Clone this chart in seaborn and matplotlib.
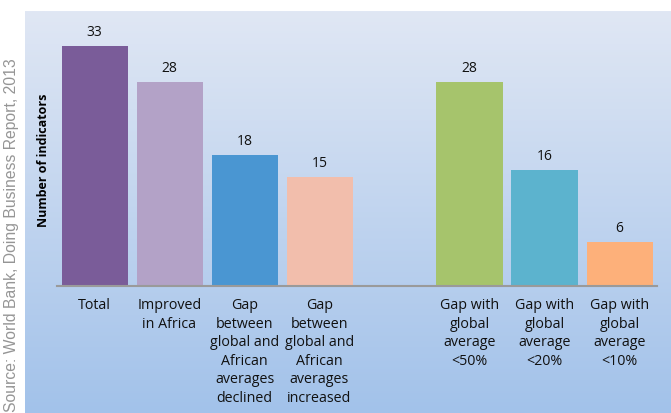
import numpy as np
import pandas as pd
import matplotlib
matplotlib.use("Agg")
import matplotlib.pyplot as plt
import seaborn as sns

categories = ["Total", "Improved\nin Africa",
              "Gap\nbetween\nglobal and\nAfrican\naverages\ndeclined",
              "Gap\nbetween\nglobal and\nAfrican\naverages\nincreased",
              "Gap with\nglobal\naverage\n<50%",
              "Gap with\nglobal\naverage\n<20%",
              "Gap with\nglobal\naverage\n<10%"]
values = [33, 28, 18, 15, 28, 16, 6]
colors = ["#7A5C99", "#B3A2C7", "#4A96D2", "#F2BEAC", "#A6C46C", "#5CB3CE", "#FDB07A"]
order = categories[:4] + [" "] + categories[4:]

sns.set_theme(style="white")
plt.rcParams["font.family"] = ["Open Sans", "DejaVu Sans"]

fig = plt.figure(figsize=(6.71, 4.14), dpi=100)

# gradient background panel
bg = fig.add_axes([25 / 671, 0, 1 - 25 / 671, (414 - 12) / 414])
top = np.array([0xE0, 0xE7, 0xF4]) / 255
bot = np.array([0xA2, 0xC2, 0xEA]) / 255
t = np.linspace(0, 1, 256)[:, None]
grad = top[None, :] * (1 - t) + bot[None, :] * t
bg.imshow(grad[:, None, :], aspect="auto", extent=[0, 1, 0, 1])
bg.set_axis_off()

ax = fig.add_axes([57 / 671, 127 / 414, 600 / 671, 267 / 414])
ax.patch.set_alpha(0)
df = pd.DataFrame({"cat": categories, "val": values})
sns.barplot(data=df, x="cat", y="val", order=order, hue="cat", hue_order=categories,
            palette=dict(zip(categories, colors)), width=0.88, legend=False,
            saturation=1, linewidth=0, edgecolor="none", ax=ax)
for c in ax.containers:
    ax.bar_label(c, padding=5, fontsize=10, color="#111111")
ax.set_xlim(-0.5, 7.5)
ax.set_ylim(0, 36.7)
ax.set_yticks([])
ax.set_xlabel("")
ax.set_ylabel("")
ax.tick_params(axis="x", length=0, pad=8)
ax.set_xticks(range(len(order)))
ax.set_xticklabels(order, fontsize=10.3, linespacing=1.32, va="top", color="#111111")
for s in ["top", "right", "left"]:
    ax.spines[s].set_visible(False)
ax.spines["bottom"].set_color("#9A9A9A")
ax.spines["bottom"].set_linewidth(1.5)

fig.text(44 / 671, 1 - 160 / 414, "Number of indicators", rotation=90,
         ha="center", va="center", fontsize=9, fontweight="bold", color="#000000")
fig.text(12 / 671, 2 / 414, "Source: World Bank, Doing Business Report, 2013",
         rotation=90, ha="center", va="bottom", fontsize=11.3, color="#959595",
         family=["Liberation Sans", "DejaVu Sans"])

fig.savefig("out.png", dpi=100)
